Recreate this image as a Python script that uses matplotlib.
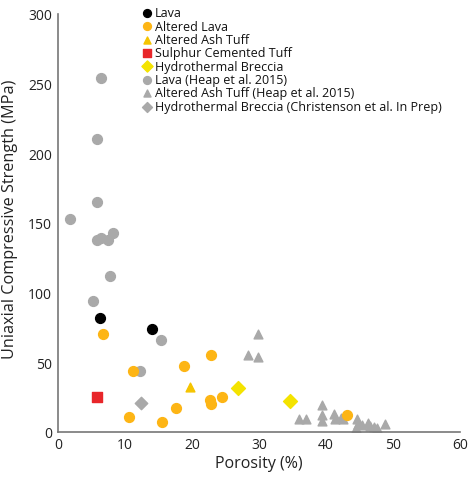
import matplotlib.pyplot as plt

plt.rcParams['font.family'] = ['Open Sans', 'DejaVu Sans']

# Lava
lava_x = [6.3, 14.0]
lava_y = [82, 74]

# Altered Lava
alt_lava_x = [6.7, 11.2, 10.6, 15.5, 17.6, 18.8, 22.8, 22.7, 22.9, 24.5, 43.1]
alt_lava_y = [70, 44, 11, 7, 17, 47, 55, 23, 20, 25, 12]

# Altered Ash Tuff
alt_tuff_x = [19.7]
alt_tuff_y = [32]

# Sulphur Cemented Tuff
sulphur_x = [5.9]
sulphur_y = [25]

# Hydrothermal Breccia
hb_x = [26.8, 34.6]
hb_y = [31.5, 22]

# Lava (Heap et al. 2015)
heap_lava_x = [1.8, 5.8, 6.5, 7.5, 8.2, 7.8, 5.3, 15.4, 12.2, 6.4, 5.9, 5.9]
heap_lava_y = [153, 138, 139, 138, 143, 112, 94, 66, 44, 254, 210, 165]

# Altered Ash Tuff (Heap et al. 2015)
heap_tuff_x = [29.9, 28.3, 29.9, 39.4, 39.4, 39.4, 36.0, 37.0, 41.2, 41.4, 42.2, 42.6,
               44.6, 44.7, 44.5, 45.3, 46.2, 46.6, 47.2, 47.6, 48.8]
heap_tuff_y = [70, 55.5, 54, 19.5, 12, 8, 9, 9, 13, 9, 10, 9,
               9, 5.5, 2.5, 5, 6.5, 4.5, 3.5, 2.5, 6]

# Hydrothermal Breccia (Christenson et al. In Prep)
chr_x = [12.4]
chr_y = [21]

fig = plt.figure(figsize=(4.70, 4.81), dpi=100)
ax = fig.add_axes([0.123, 0.1, 0.856, 0.869])

gray = '#a9a9a9'
h1 = ax.scatter(lava_x, lava_y, s=50, c='black', marker='o', zorder=3)
h2 = ax.scatter(alt_lava_x, alt_lava_y, s=50, c='#fdb515', marker='o', zorder=3)
h3 = ax.scatter(alt_tuff_x, alt_tuff_y, s=40, c='#f5c400', marker='^', zorder=3)
h4 = ax.scatter(sulphur_x, sulphur_y, s=55, c='#e8262a', marker='s', zorder=3)
h5 = ax.scatter(hb_x, hb_y, s=50, c='#f4e300', marker='D', zorder=3)
h6 = ax.scatter(heap_lava_x, heap_lava_y, s=50, c=gray, marker='o', zorder=2)
h7 = ax.scatter(heap_tuff_x, heap_tuff_y, s=40, c=gray, marker='^', zorder=2)
h8 = ax.scatter(chr_x, chr_y, s=40, c=gray, marker='D', zorder=2)

labels = ['Lava', 'Altered Lava', 'Altered Ash Tuff', 'Sulphur Cemented Tuff',
          'Hydrothermal Breccia', 'Lava (Heap et al. 2015)',
          'Altered Ash Tuff (Heap et al. 2015)',
          'Hydrothermal Breccia (Christenson et al. In Prep)']
fig.legend([h1, h2, h3, h4, h5, h6, h7, h8], labels, loc='upper left',
           bbox_to_anchor=(134 / 470, 1 - 1 / 481), frameon=False, fontsize=9,
           labelspacing=0.03, handletextpad=0.15, handlelength=1.0,
           borderpad=0, labelcolor='#111111', markerscale=0.8)

ax.set_xlim(0, 60)
ax.set_ylim(0, 300)
ax.set_xticks(range(0, 61, 10))
ax.set_yticks(range(0, 301, 50))
ax.tick_params(length=0, labelsize=10, colors='#222222', pad=4)
for s in ['top', 'right']:
    ax.spines[s].set_visible(False)
for s in ['left', 'bottom']:
    ax.spines[s].set_color('#777777')
    ax.spines[s].set_linewidth(1.2)

ax.set_xlabel('Porosity (%)', fontsize=11.5, color='#222222', labelpad=2)
ax.set_ylabel('Uniaxial Compressive Strength (MPa)', fontsize=11.7, color='#222222', labelpad=3)
ax.yaxis.set_label_coords(-0.1, 0.51)

fig.savefig('out.png', dpi=100)
